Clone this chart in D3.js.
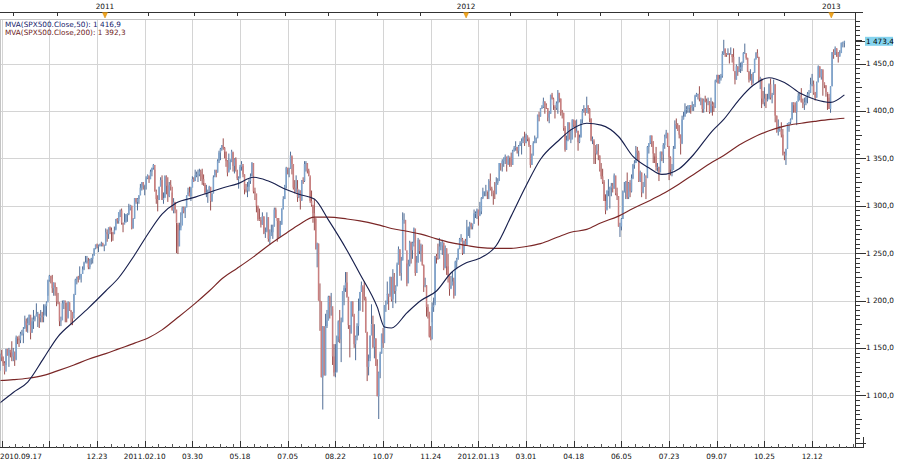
<!DOCTYPE html>
<html>
<head>
<meta charset="utf-8">
<script src="https://cdn.jsdelivr.net/npm/d3@7/dist/d3.min.js"></script>
<style>
html,body{margin:0;padding:0;background:#fff;}
svg{display:block;font-family:"DejaVu Sans",Verdana,sans-serif;}
</style>
</head>
<body>
<svg id="chart" width="900" height="464"></svg>
<script>
// ---------------- DATA (S&P 500 daily bars) ----------------
const months = ["2010-09","2010-10","2010-11","2010-12","2011-01","2011-02","2011-03","2011-04","2011-05","2011-06","2011-07","2011-08","2011-09","2011-10","2011-11","2011-12","2012-01","2012-02","2012-03","2012-04","2012-05","2012-06","2012-07","2012-08","2012-09","2012-10","2012-11","2012-12","2013-01"];
const days = [
[17,20,21,22,23,24,27,28,29,30],
[1,4,5,6,7,8,11,12,13,14,15,18,19,20,21,22,25,26,27,28,29],
[1,2,3,4,5,8,9,10,11,12,15,16,17,18,19,22,23,24,26,29,30],
[1,2,3,6,7,8,9,10,13,14,15,16,17,20,21,22,23,27,28,29,30,31],
[3,4,5,6,7,10,11,12,13,14,18,19,20,21,24,25,26,27,28,31],
[1,2,3,4,7,8,9,10,11,14,15,16,17,18,22,23,24,25,28],
[1,2,3,4,7,8,9,10,11,14,15,16,17,18,21,22,23,24,25,28,29,30,31],
[1,4,5,6,7,8,11,12,13,14,15,18,19,20,21,25,26,27,28,29],
[2,3,4,5,6,9,10,11,12,13,16,17,18,19,20,23,24,25,26,27,31],
[1,2,3,6,7,8,9,10,13,14,15,16,17,20,21,22,23,24,27,28,29,30],
[1,5,6,7,8,11,12,13,14,15,18,19,20,21,22,25,26,27,28,29],
[1,2,3,4,5,8,9,10,11,12,15,16,17,18,19,22,23,24,25,26,29,30,31],
[1,2,6,7,8,9,12,13,14,15,16,19,20,21,22,23,26,27,28,29,30],
[3,4,5,6,7,10,11,12,13,14,17,18,19,20,21,24,25,26,27,28,31],
[1,2,3,4,7,8,9,10,11,14,15,16,17,18,21,22,23,25,28,29,30],
[1,2,5,6,7,8,9,12,13,14,15,16,19,20,21,22,23,27,28,29,30],
[3,4,5,6,9,10,11,12,13,17,18,19,20,23,24,25,26,27,30,31],
[1,2,3,6,7,8,9,10,13,14,15,16,17,21,22,23,24,27,28,29],
[1,2,5,6,7,8,9,12,13,14,15,16,19,20,21,22,23,26,27,28,29,30],
[2,3,4,5,9,10,11,12,13,16,17,18,19,20,23,24,25,26,27,30],
[1,2,3,4,7,8,9,10,11,14,15,16,17,18,21,22,23,24,25,29,30,31],
[1,4,5,6,7,8,11,12,13,14,15,18,19,20,21,22,25,26,27,28,29],
[2,3,5,6,9,10,11,12,13,16,17,18,19,20,23,24,25,26,27,30,31],
[1,2,3,6,7,8,9,10,13,14,15,16,17,20,21,22,23,24,27,28,29,30,31],
[4,5,6,7,10,11,12,13,14,17,18,19,20,21,24,25,26,27,28],
[1,2,3,4,5,8,9,10,11,12,15,16,17,18,19,22,23,24,25,26,31],
[1,2,5,6,7,8,9,12,13,14,15,16,19,20,21,23,26,27,28,29,30],
[3,4,5,6,7,10,11,12,13,14,17,18,19,20,21,24,26,27,28,31],
[2,3,4,7,8,9,10,11,14]
];
const closes = [
[1126,1143,1140,1134,1125,1149,1142,1148,1145,1141],
[1146,1137,1161,1160,1158,1165,1165,1170,1178,1174,1176,1185,1166,1178,1180,1183,1186,1186,1182,1184,1183],
[1184,1194,1198,1221,1226,1223,1213,1219,1214,1199,1198,1178,1179,1197,1200,1198,1181,1198,1189,1188,1181],
[1206,1222,1225,1223,1224,1228,1233,1240,1240,1242,1235,1243,1244,1247,1255,1259,1257,1258,1259,1260,1258,1258],
[1272,1270,1277,1274,1272,1270,1274,1286,1284,1293,1295,1282,1280,1283,1291,1291,1297,1300,1276,1286],
[1308,1304,1307,1311,1319,1325,1321,1322,1329,1332,1328,1336,1340,1343,1315,1307,1306,1320,1327],
[1306,1308,1331,1321,1310,1322,1320,1295,1304,1296,1282,1257,1274,1279,1298,1294,1298,1310,1314,1310,1319,1328,1326],
[1332,1333,1333,1336,1334,1328,1324,1314,1314,1315,1320,1305,1313,1330,1337,1335,1347,1356,1360,1364],
[1361,1357,1347,1335,1340,1346,1357,1342,1349,1338,1329,1329,1341,1344,1333,1317,1316,1320,1326,1331,1345],
[1315,1313,1300,1286,1285,1280,1289,1271,1272,1288,1265,1268,1272,1278,1296,1287,1284,1268,1280,1297,1307,1321],
[1340,1338,1339,1353,1344,1319,1314,1318,1309,1316,1305,1327,1326,1344,1345,1337,1332,1305,1301,1292],
[1287,1254,1260,1200,1199,1119,1173,1121,1173,1179,1204,1193,1194,1141,1124,1124,1162,1178,1159,1177,1210,1213,1219],
[1204,1174,1165,1199,1186,1154,1162,1173,1189,1209,1216,1204,1202,1167,1130,1136,1163,1175,1151,1160,1131],
[1099,1124,1144,1165,1155,1195,1196,1207,1204,1225,1201,1225,1210,1215,1238,1254,1229,1242,1285,1285,1253],
[1218,1238,1261,1253,1261,1276,1229,1240,1264,1252,1258,1237,1216,1216,1193,1188,1162,1159,1193,1195,1247],
[1245,1244,1257,1258,1261,1234,1255,1236,1226,1212,1216,1220,1205,1241,1244,1254,1265,1265,1250,1263,1258],
[1277,1277,1281,1278,1281,1292,1292,1296,1289,1294,1308,1315,1315,1316,1315,1326,1318,1316,1313,1312],
[1324,1326,1345,1344,1347,1350,1352,1343,1352,1351,1343,1358,1361,1362,1358,1363,1366,1368,1372,1366],
[1374,1370,1364,1343,1353,1366,1371,1371,1396,1394,1403,1404,1410,1406,1403,1393,1397,1417,1413,1406,1403,1408],
[1419,1413,1399,1398,1382,1359,1369,1388,1370,1370,1391,1385,1377,1379,1367,1372,1391,1400,1403,1398],
[1406,1402,1392,1369,1370,1364,1355,1358,1353,1338,1331,1325,1305,1295,1316,1317,1319,1321,1318,1332,1313,1310],
[1278,1278,1286,1315,1315,1326,1309,1324,1315,1329,1343,1345,1358,1356,1326,1335,1314,1320,1332,1329,1362],
[1366,1374,1368,1355,1352,1341,1341,1335,1357,1354,1364,1373,1377,1363,1351,1338,1338,1360,1386,1385,1379],
[1375,1365,1391,1394,1401,1402,1403,1406,1404,1404,1406,1416,1418,1418,1413,1413,1402,1411,1410,1409,1410,1399,1407],
[1405,1403,1432,1438,1429,1434,1437,1460,1466,1461,1459,1461,1460,1460,1457,1442,1433,1447,1441],
[1444,1446,1451,1461,1461,1456,1441,1433,1433,1429,1440,1455,1461,1457,1433,1434,1413,1409,1413,1412,1412],
[1428,1414,1417,1428,1395,1378,1380,1380,1375,1355,1353,1360,1387,1388,1391,1409,1406,1399,1410,1416,1416],
[1409,1407,1409,1414,1418,1419,1428,1428,1419,1414,1430,1447,1436,1444,1430,1427,1420,1418,1402,1426],
[1462,1459,1466,1462,1457,1461,1472,1472,1473.4]
];
const highs = [
[1131,1144,1148,1141,1136,1149,1149,1150,1148,1157],
[1150,1146,1163,1162,1163,1167,1169,1172,1184,1181,1182,1185,1178,1182,1190,1184,1197,1188,1183,1190,1188],
[1196,1196,1199,1222,1227,1226,1227,1219,1216,1214,1208,1198,1183,1200,1200,1198,1197,1199,1198,1190,1187],
[1207,1223,1225,1226,1236,1228,1236,1241,1247,1247,1245,1244,1245,1249,1255,1259,1260,1259,1260,1262,1261,1259],
[1276,1275,1277,1278,1277,1272,1278,1286,1287,1293,1296,1297,1282,1292,1291,1292,1302,1301,1300,1287],
[1308,1308,1308,1311,1323,1325,1324,1322,1331,1333,1331,1338,1340,1344,1338,1317,1311,1320,1330],
[1332,1314,1332,1332,1330,1325,1327,1314,1308,1304,1282,1280,1282,1293,1299,1299,1299,1311,1319,1320,1320,1331,1330],
[1338,1336,1338,1339,1338,1339,1333,1322,1322,1317,1321,1319,1313,1332,1338,1338,1349,1358,1361,1364],
[1371,1362,1357,1348,1355,1349,1359,1356,1350,1351,1337,1331,1343,1347,1342,1333,1323,1325,1328,1334,1346],
[1345,1319,1312,1300,1297,1288,1293,1288,1277,1293,1286,1275,1280,1280,1298,1298,1287,1287,1284,1297,1310,1322],
[1341,1340,1340,1357,1352,1343,1327,1332,1327,1317,1316,1327,1330,1347,1347,1345,1339,1330,1316,1300],
[1307,1286,1261,1260,1218,1199,1173,1172,1186,1190,1205,1205,1208,1191,1154,1154,1163,1179,1190,1182,1210,1216,1230],
[1230,1202,1174,1199,1199,1184,1163,1176,1202,1209,1220,1214,1220,1204,1166,1143,1163,1196,1184,1175,1160],
[1138,1125,1146,1165,1171,1195,1200,1220,1207,1225,1224,1233,1229,1216,1240,1257,1254,1246,1293,1292,1285],
[1239,1243,1263,1262,1262,1277,1258,1247,1266,1264,1260,1259,1238,1224,1216,1196,1188,1173,1198,1203,1247],
[1249,1260,1266,1262,1264,1261,1258,1255,1249,1226,1226,1231,1224,1242,1245,1255,1266,1270,1266,1263,1265],
[1285,1278,1283,1282,1281,1296,1294,1297,1294,1304,1309,1319,1315,1322,1315,1328,1334,1320,1314,1325],
[1330,1329,1345,1344,1349,1351,1354,1343,1353,1351,1356,1359,1363,1368,1362,1364,1368,1371,1373,1378],
[1376,1374,1372,1364,1355,1368,1374,1372,1396,1399,1403,1406,1414,1410,1408,1403,1400,1417,1419,1414,1404,1410],
[1422,1419,1413,1401,1398,1384,1374,1388,1387,1381,1391,1390,1390,1391,1379,1375,1391,1402,1406,1403],
[1415,1403,1403,1392,1373,1368,1362,1365,1365,1353,1345,1339,1327,1312,1316,1328,1320,1324,1324,1334,1331,1319],
[1310,1282,1287,1316,1325,1326,1335,1325,1327,1333,1344,1348,1363,1362,1358,1337,1335,1325,1334,1329,1363],
[1366,1374,1374,1368,1355,1362,1345,1341,1357,1357,1366,1375,1380,1376,1363,1352,1344,1363,1390,1392,1387],
[1385,1375,1395,1399,1408,1405,1406,1406,1406,1410,1407,1417,1419,1418,1426,1414,1413,1413,1416,1413,1414,1410,1414],
[1410,1409,1433,1438,1438,1438,1439,1463,1475,1465,1461,1466,1461,1467,1460,1466,1442,1449,1447],
[1457,1451,1452,1462,1471,1460,1456,1442,1444,1439,1441,1455,1462,1465,1457,1436,1434,1421,1425,1418,1418],
[1429,1434,1419,1433,1428,1395,1391,1384,1388,1381,1357,1360,1387,1388,1392,1409,1409,1409,1410,1419,1419],
[1424,1413,1414,1415,1420,1422,1435,1439,1432,1420,1431,1448,1447,1444,1443,1430,1427,1419,1414,1426],
[1462,1465,1468,1466,1462,1464,1472,1473,1474]
];
const lows = [
[1120,1126,1136,1131,1122,1132,1142,1130,1140,1136],
[1136,1131,1138,1154,1151,1155,1163,1155,1171,1167,1166,1174,1159,1166,1170,1178,1184,1172,1171,1177,1177],
[1177,1185,1183,1205,1220,1218,1208,1205,1205,1194,1196,1173,1173,1180,1191,1177,1177,1182,1189,1174,1174],
[1187,1206,1217,1219,1222,1219,1228,1232,1240,1239,1233,1233,1238,1239,1248,1254,1255,1251,1257,1257,1257,1252],
[1258,1262,1265,1270,1262,1263,1270,1275,1281,1281,1288,1280,1272,1282,1282,1283,1290,1295,1275,1276],
[1287,1302,1295,1302,1311,1316,1317,1311,1317,1328,1324,1328,1331,1338,1315,1302,1294,1306,1321],
[1306,1302,1309,1312,1304,1309,1316,1295,1292,1292,1250,1249,1268,1277,1290,1292,1287,1299,1312,1310,1305,1321,1325],
[1326,1330,1325,1331,1326,1322,1321,1312,1309,1303,1314,1295,1304,1313,1332,1330,1335,1345,1348,1358],
[1359,1350,1341,1331,1336,1338,1346,1336,1334,1336,1327,1318,1329,1337,1330,1312,1314,1309,1315,1323,1331],
[1313,1306,1293,1284,1284,1277,1280,1270,1266,1273,1262,1259,1268,1265,1278,1287,1262,1266,1267,1280,1296,1307],
[1318,1333,1330,1339,1333,1317,1313,1315,1304,1308,1296,1306,1323,1325,1336,1334,1331,1303,1299,1282],
[1274,1254,1235,1200,1168,1119,1085,1121,1121,1171,1179,1181,1184,1132,1120,1119,1125,1156,1155,1135,1178,1195,1209],
[1203,1170,1140,1166,1183,1150,1137,1158,1163,1190,1209,1188,1200,1166,1115,1121,1139,1175,1150,1139,1131],
[1099,1075,1118,1144,1150,1163,1188,1206,1190,1206,1199,1192,1207,1197,1215,1238,1226,1221,1243,1281,1253],
[1215,1219,1236,1239,1244,1257,1226,1229,1240,1249,1241,1237,1209,1214,1183,1181,1161,1158,1177,1188,1197],
[1239,1243,1253,1253,1248,1232,1235,1227,1219,1205,1213,1216,1202,1219,1233,1243,1255,1262,1248,1249,1258],
[1258,1268,1266,1275,1275,1281,1287,1286,1279,1290,1291,1307,1310,1310,1307,1307,1316,1310,1301,1307],
[1313,1322,1326,1337,1336,1341,1344,1336,1344,1341,1341,1343,1357,1358,1355,1352,1363,1354,1366,1363],
[1366,1368,1362,1340,1343,1353,1366,1366,1372,1389,1394,1402,1403,1397,1402,1389,1387,1397,1412,1401,1392,1401],
[1397,1409,1395,1392,1379,1357,1359,1368,1370,1366,1370,1383,1372,1378,1358,1366,1372,1387,1398,1395],
[1398,1397,1388,1368,1365,1344,1344,1354,1348,1336,1328,1323,1305,1291,1296,1310,1297,1310,1314,1318,1311,1306],
[1278,1267,1274,1286,1314,1307,1307,1307,1309,1314,1328,1339,1345,1348,1325,1325,1309,1313,1320,1307,1330],
[1355,1365,1362,1345,1345,1337,1336,1326,1336,1347,1345,1360,1371,1362,1327,1332,1331,1338,1360,1381,1379],
[1371,1354,1366,1391,1394,1397,1398,1398,1397,1400,1400,1404,1415,1412,1410,1406,1398,1398,1409,1399,1406,1397,1398],
[1395,1399,1404,1430,1429,1429,1432,1435,1459,1457,1457,1459,1450,1460,1451,1442,1428,1433,1437],
[1441,1440,1442,1451,1460,1454,1441,1430,1432,1427,1429,1441,1454,1456,1430,1423,1403,1407,1405,1403,1410],
[1413,1412,1408,1417,1388,1377,1374,1378,1372,1353,1348,1343,1360,1378,1386,1391,1398,1398,1385,1410,1411],
[1409,1403,1401,1406,1408,1415,1419,1426,1417,1411,1414,1431,1435,1433,1416,1424,1415,1401,1402,1398],
[1426,1455,1459,1457,1451,1458,1461,1467,1467]
];
// Moving averages
const maDates = ["2010-09-17","2010-10-01","2010-10-15","2010-11-01","2010-11-15","2010-12-01","2010-12-15","2011-01-03","2011-01-14","2011-02-01","2011-02-15","2011-03-01","2011-03-15","2011-04-01","2011-04-15","2011-05-02","2011-05-16","2011-06-01","2011-06-15","2011-07-01","2011-07-15","2011-08-01","2011-08-15","2011-09-01","2011-09-15","2011-10-03","2011-10-10","2011-10-17","2011-11-01","2011-11-15","2011-12-01","2011-12-15","2012-01-03","2012-01-13","2012-02-01","2012-02-15","2012-03-01","2012-03-15","2012-04-02","2012-04-16","2012-05-01","2012-05-15","2012-06-01","2012-06-15","2012-07-02","2012-07-16","2012-08-01","2012-08-15","2012-09-04","2012-09-14","2012-10-01","2012-10-15","2012-11-01","2012-11-15","2012-12-03","2012-12-14","2012-12-31","2013-01-14"];
const ma50Values = [1091,1103,1114,1139,1162,1178,1192,1210,1224,1248,1272,1291,1303,1309,1314,1319,1323,1330,1326,1317,1312,1307,1285,1253,1228,1193,1172,1171,1187,1200,1210,1229,1240,1244,1258,1289,1321,1349,1368,1380,1387,1385,1373,1352,1340,1333,1339,1354,1379,1391,1412,1427,1435,1430,1418,1412,1409,1416.9];
const ma200Values = [1115.5,1116.5,1118,1121,1126,1132,1138,1144,1149,1155,1161,1169,1181,1197,1210,1224,1234,1246,1258,1271,1280,1288,1288,1286,1284,1280,1278,1276,1273,1270,1265,1261,1258,1256,1255,1255,1257,1260,1267,1272,1275,1282,1289,1297,1305,1312,1323,1333,1346,1353,1364,1372,1379,1384,1387,1389,1391,1392.3];
// Axis labels
const startLabel = "2010.09.17";
const tickDates = ["2010-09-21","2010-11-05","2010-12-23","2011-02-10","2011-03-30","2011-05-18","2011-07-05","2011-08-22","2011-10-07","2011-11-24","2012-01-13","2012-03-01","2012-04-18","2012-06-05","2012-07-23","2012-09-07","2012-10-25","2012-12-12"];
const tickLabels = ["","","12.23","2011.02.10","03.30","05.18","07.05","08.22","10.07","11.24","2012.01.13","03.01","04.18","06.05","07.23","09.07","10.25","12.12"];
const topTickDates = ["2010-10-01","2010-11-15","2011-01-01","2011-02-15","2011-04-01","2011-05-15","2011-07-01","2011-08-15","2011-10-01","2011-11-15","2012-01-01","2012-02-15","2012-04-01","2012-05-15","2012-07-01","2012-08-15","2012-10-01","2012-11-15","2013-01-01"];
const yearTickDates = ["2011-01-01","2012-01-01","2013-01-01"];
const yearLabels = ["2011","2012","2013"];
const yTickValues = [1100,1150,1200,1250,1300,1350,1400,1450];
const legendNames = ["MVA(SPX500.Close,50)","MVA(SPX500.Close,200)"];

// ---------------- BUILD ----------------
const bars = [];
months.forEach((m, mi) => days[mi].forEach((d, di) => bars.push({
  key: m + "-" + String(d).padStart(2, "0"),
  close: closes[mi][di], high: highs[mi][di], low: lows[mi][di]
})));
bars.forEach((b, i) => { b.open = i ? bars[i - 1].close : b.close; b.up = b.close >= b.open; });
const keys = bars.map(b => b.key);
// position of a date on the bar axis: first bar on or after that date
const pos = d => Math.min(d3.bisectLeft(keys, d), bars.length - 1);

const fmt = d3.formatLocale({decimal: ",", thousands: "\u00a0", grouping: [3], currency: ["", ""]}).format(",.1f");

const P = {l: 0.5, r: 855.5, t: 19.5, b: 447.5};
const TICK0 = 1.7, TICKSTEP = 47.67;
const x = d3.scaleLinear()
  .domain(tickDates.map(pos))
  .range(tickDates.map((d, k) => TICK0 + k * TICKSTEP));
const y = d3.scaleLinear().domain([1100, 1450]).range([395.3, 63.5]);
const px = v => Math.round(v) + 0.5;
const TXT = "#111";

const svg = d3.select("#chart");
svg.append("rect").attr("width", 900).attr("height", 464).attr("fill", "#fff");

// grid
const grid = svg.append("g").attr("stroke", "#d4d4d4").attr("stroke-width", 1).attr("shape-rendering", "crispEdges");
grid.selectAll("line.h").data(yTickValues).join("line")
  .attr("x1", P.l).attr("x2", P.r).attr("y1", d => px(y(d))).attr("y2", d => px(y(d)));
grid.selectAll("line.v").data(tickDates).join("line")
  .attr("y1", P.t).attr("y2", P.b).attr("x1", d => px(x(pos(d)))).attr("x2", d => px(x(pos(d))));
// frame
svg.append("path").attr("d", `M${P.l},${P.b}V${P.t}H${P.r}`).attr("fill", "none").attr("stroke", "#c4c4c4").attr("shape-rendering", "crispEdges");

// clip
svg.append("clipPath").attr("id", "clip").append("rect")
  .attr("x", P.l).attr("y", P.t).attr("width", P.r - P.l).attr("height", P.b - P.t);
const g = svg.append("g").attr("clip-path", "url(#clip)");

// bars (thin candles: dark wick high-low, light body open-close)
g.selectAll("line.wick").data(bars).join("line")
  .attr("x1", (d, i) => x(i)).attr("x2", (d, i) => x(i))
  .attr("y1", d => y(d.high)).attr("y2", d => y(d.low))
  .attr("stroke", d => d.up ? "#3d5e8b" : "#8f3a39").attr("stroke-width", 0.9);
g.selectAll("rect.body").data(bars).join("rect")
  .attr("x", (d, i) => x(i) - 0.75).attr("width", 1.5)
  .attr("y", d => y(Math.max(d.open, d.close)))
  .attr("height", d => Math.max(0.8, Math.abs(y(d.open) - y(d.close))))
  .attr("fill", d => d.up ? "#7ea3cc" : "#c98080");

// moving averages
const maPts = vals => maDates.map((d, k) => ({i: pos(d), v: vals[k]}));
const line = d3.line().x(d => x(d.i)).y(d => y(d.v)).curve(d3.curveMonotoneX);
g.append("path").datum(maPts(ma200Values)).attr("d", line)
  .attr("fill", "none").attr("stroke", "#7a2626").attr("stroke-width", 1.15);
g.append("path").datum(maPts(ma50Values)).attr("d", line)
  .attr("fill", "none").attr("stroke", "#18204e").attr("stroke-width", 1.15);

// right axis
const ra = svg.append("g").attr("shape-rendering", "crispEdges");
ra.append("line").attr("x1", P.r).attr("x2", P.r).attr("y1", 12).attr("y2", P.b).attr("stroke", "#333");
const yMinor = d3.range(1045, 1505, 5).filter(v => y(v) > P.t && y(v) < P.b - 1);
ra.selectAll("line.t").data(yMinor).join("line")
  .attr("x1", P.r).attr("x2", v => P.r + (v % 50 === 0 ? 10 : (v % 25 === 0 ? 6 : 4)))
  .attr("y1", v => px(y(v))).attr("y2", v => px(y(v)))
  .attr("stroke", "#333");
svg.append("g").selectAll("text").data(yTickValues).join("text")
  .attr("x", 866).attr("y", v => y(v)).attr("dy", "0.35em")
  .attr("font-size", 7.3).attr("fill", TXT).text(fmt);

// last value box
const last = bars[bars.length - 1].close;
svg.append("rect").attr("x", 865).attr("y", y(last) - 4.5).attr("width", 28).attr("height", 9).attr("fill", "#84d3ee");
svg.append("line").attr("x1", P.r).attr("x2", 865).attr("y1", px(y(last))).attr("y2", px(y(last))).attr("stroke", "#333").attr("shape-rendering", "crispEdges");
svg.append("text").attr("x", 866).attr("y", y(last)).attr("dy", "0.35em")
  .attr("font-size", 7.3).attr("fill", "#000").text(fmt(last));

// top axis
const ta = svg.append("g").attr("shape-rendering", "crispEdges");
ta.append("line").attr("x1", 0).attr("x2", 863).attr("y1", 12.5).attr("y2", 12.5).attr("stroke", "#333");
ta.selectAll("line.t").data(topTickDates).join("line")
  .attr("x1", d => px(x(pos(d) - 0.5))).attr("x2", d => px(x(pos(d) - 0.5)))
  .attr("y1", 12.5).attr("y2", 16).attr("stroke", "#333");
svg.append("g").selectAll("text").data(yearTickDates).join("text")
  .attr("x", d => x(pos(d) - 0.5)).attr("y", 9).attr("text-anchor", "middle")
  .attr("font-size", 7.3).attr("fill", TXT).text((d, k) => yearLabels[k]);
svg.append("g").selectAll("path").data(yearTickDates).join("path")
  .attr("d", d => { const xx = x(pos(d) - 0.5); return `M${xx - 2.5},12.5L${xx + 2.5},12.5L${xx},18Z`; })
  .attr("fill", "#f2a51e").attr("stroke", "#d08a10").attr("stroke-width", 0.5);

// bottom axis
const ba = svg.append("g").attr("shape-rendering", "crispEdges");
ba.append("line").attr("x1", 0).attr("x2", 863).attr("y1", P.b).attr("y2", P.b).attr("stroke", "#333");
ba.append("line").attr("x1", 863).attr("x2", 863).attr("y1", 437).attr("y2", P.b).attr("stroke", "#333");
const majX = tickDates.map(d => x(pos(d)));
ba.selectAll("line.maj").data(majX).join("line")
  .attr("x1", d => px(d)).attr("x2", d => px(d)).attr("y1", 441).attr("y2", P.b).attr("stroke", "#333");
const minX = [];
majX.forEach(m => { for (let s = 1; s <= 6; s++) minX.push({xv: m + s * TICKSTEP / 7, long: s % 2 === 0}); });
ba.selectAll("line.min").data(minX.filter(d => d.xv < 860)).join("line")
  .attr("x1", d => px(d.xv)).attr("x2", d => px(d.xv))
  .attr("y1", d => d.long ? 444 : 445.5).attr("y2", P.b).attr("stroke", "#555");
const bl = svg.append("g").attr("font-size", 7.3).attr("fill", TXT);
bl.append("text").attr("x", 0).attr("y", 459).text(startLabel);
bl.selectAll("text.l").data(tickDates.map((d, k) => ({d, k})).filter(o => tickLabels[o.k])).join("text")
  .attr("x", o => x(pos(o.d))).attr("y", 459).attr("text-anchor", "middle").text(o => tickLabels[o.k]);

// legend
const lg = svg.append("g").attr("font-size", 7.3);
lg.append("text").attr("x", 5).attr("y", 27).attr("fill", "#14206a").text(`${legendNames[0]}: ${fmt(ma50Values[ma50Values.length - 1])}`);
lg.append("text").attr("x", 5).attr("y", 34.5).attr("fill", "#6e1a1a").text(`${legendNames[1]}: ${fmt(ma200Values[ma200Values.length - 1])}`);
</script>
</body>
</html>
